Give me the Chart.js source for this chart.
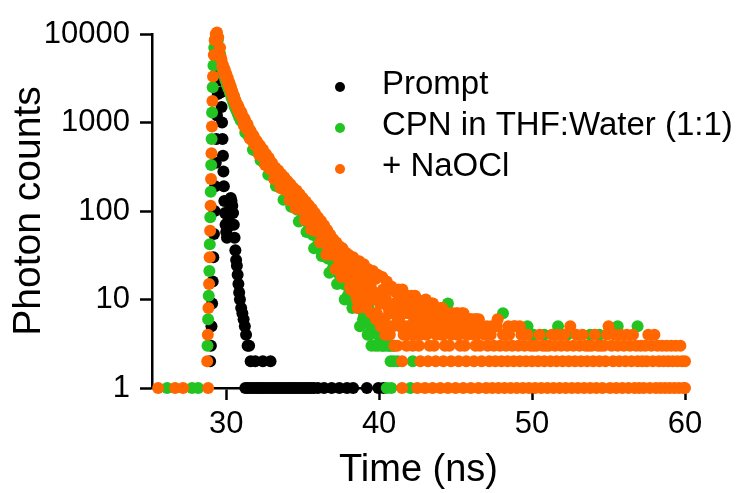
<!DOCTYPE html>
<html><head><meta charset="utf-8">
<script src="https://cdn.jsdelivr.net/npm/chart.js@4.4.1/dist/chart.umd.min.js"></script>
<style>html,body{margin:0;padding:0;background:#fff;}#c{display:block;}</style>
</head><body>
<canvas id="c" width="748" height="493"></canvas>
<script>
const seriesNames = ['Prompt', 'CPN in THF:Water (1:1)', '+ NaOCl'];
const xTickValues = [30, 40, 50, 60];
const yTickValues = [1, 10, 100, 1000, 10000];
const yTickLabels = ['1', '10', '100', '1000', '10000'];

// Prompt (IRF)
const promptTime = [28.95,29.0,29.04,29.08,29.12,29.16,29.2,29.24,29.28,29.32,29.36,29.4,29.45,29.5,29.56,
  29.62,29.66,29.7,29.73,29.76,29.79,29.82,29.85,29.88,29.92,29.96,30.0,30.05,30.1,30.15,30.2,30.25,30.3,30.35,30.4,
  30.45,30.5,30.55,30.6,30.65,30.7,30.75,30.8,30.85,30.9,30.98,31.06,31.14,31.22,31.3,31.4,31.5];
const promptCounts = [2,3,5,9,16,30,55,100,190,350,650,1200,2100,3000,3600,
  3000,2200,1500,1000,650,420,280,190,130,95,70,58,50,65,80,100,125,140,130,115,
  95,70,50,36,28,24,19,15,12,10,8,7,6,5,4,3,3];
const promptTailTime = [31.6,31.9,32.4,32.9,
  31.25,31.4,31.55,31.7,31.85,32.0,32.15,32.3,32.45,32.6,32.75,32.9,33.05,33.2,33.35,33.5,33.65,33.8,33.95,34.1,
  34.25,34.4,34.55,34.7,34.85,35.0,35.15,35.3,35.45,35.6,35.75,36.0,36.4,36.9,37.4,37.9,38.3,39.2,39.95,40.3];
const promptTailCounts = [2,2,2,2,
  1,1,1,1,1,1,1,1,1,1,1,1,1,1,1,1,1,1,1,1,
  1,1,1,1,1,1,1,1,1,1,1,1,1,1,1,1,1,1,1,1];

// Shared channel times for the decay of both samples
const decayTime = [29.6,29.7,29.8,29.9,30.0,30.1,30.2,30.3,30.4,30.5,
  30.6,30.7,30.8,30.9,31.0,31.1,31.2,31.3,31.4,31.5,
  31.6,31.7,31.8,31.9,32.0,32.1,32.2,32.3,32.4,32.5,
  32.6,32.7,32.8,32.9,33.0,33.1,33.2,33.3,33.4,33.5,
  33.6,33.7,33.8,33.9,34.0,34.1,34.2,34.3,34.4,34.5,
  34.6,34.7,34.8,34.9,35.0,35.1,35.2,35.3,35.4,35.5,
  35.6,35.7,35.8,35.9,36.0,36.1,36.2,36.3,36.4,36.5,
  36.6,36.7,36.8,36.9,37.0,37.1,37.2,37.3,37.4,37.5,
  37.6,37.7,37.8,37.9,38.0,38.1,38.2,38.3,38.4,38.5,
  38.6,38.7,38.8,38.9,39.0,39.1,39.2,39.3,39.4,39.5,
  39.6,39.7,39.8,39.9,40.0,40.1,40.2,40.3,40.4,40.5,
  40.6,40.7,40.8,40.9,41.0];
// Intermediate channels (half-way)
const decayTimeMid = [29.65,29.75,29.85,29.95,30.05,30.15,30.25,30.35,30.45,30.55,30.65,30.75,30.85,30.95,
  31.05,31.15,31.25,31.35,31.45,31.55,31.65,31.75,31.85,31.95,
  32.05,32.15,32.25,32.35,32.45,32.55,32.65,32.75,32.85,32.95,
  33.05,33.15,33.25,33.35,33.45,33.55,33.65,33.75,33.85,33.95,
  34.05,34.15,34.25,34.35,34.45,34.55,34.65,34.75,34.85,34.95,
  35.05,35.15,35.25,35.35,35.45,35.55,35.65,35.75,35.85,35.95,
  36.05,36.15,36.25,36.35,36.45,36.55,36.65,36.75,36.85,36.95,
  37.05,37.15,37.25,37.35,37.45,37.55,37.65,37.75,37.85,37.95,
  38.05,38.15,38.25,38.35,38.45,38.55,38.65,38.75,38.85,38.95,
  39.05,39.15,39.25,39.35,39.45,39.55,39.65,39.75,39.85,39.95,
  40.05,40.15,40.25,40.35,40.45,40.55,40.65,40.75,40.85,40.95];

// CPN in THF:Water (1:1)
const cpnBaseTime = [26.14,27.77,28.17];
const cpnBaseCounts = [1,1,1];
const cpnRiseTime = [28.78,28.82,28.86,28.9,28.93,28.96,28.99,29.02,29.05,29.08,29.12,29.17,29.22,29.29,29.36,29.45];
const cpnRiseCounts = [3,6,11,21,42,85,165,330,650,1300,2500,4400,7000,8800,9500,8500];
const cpnDecayCounts = [6000,4600,4100,3600,3300,2950,2650,2450,2150,1990,
  1760,1620,1430,1320,1160,1100,990,950,850,815,
  730,700,630,600,540,518,478,462,420,410,
  372,360,328,318,290,282,262,255,232,230,
  210,206,188,186,168,168,150,150,134,135,
  118,120,106,108,94,96,83,84,72,75,
  64,66,56,58,49,52,43,46,38,41,
  33,36,29,32,26,29,22,26,19,24,
  17,21,15,19,10,16,12,15,11,13,
  9,12,8,10,7,9,6,8,4,3,
  6,5,7,4,6,5,3,5,4,1,
  4,3,1,5,3];
const cpnDecayMidCounts = [4800,3900,3400,3000,2650,2400,2150,1900,1700,1520,1380,1260,1150,1050,
  1032,1048,772,860,710,810,639,493,602,475,
  486,501,374,422,354,409,327,256,317,253,
  255,273,192,231,189,234,180,134,183,140,
  150,159,112,134,109,134,103,76,103,79,
  82,89,58,73,57,75,54,38,56,40,
  44,48,31,39,31,40,29,20,30,22,
  23,26,15,21,16,22,15,10,16,11,
  13,14,8,11,9,12,8,5,9,6,
  7,8,4,6,5,7,5,3,5,3,
  4,5,3,4,3,4,3,2,3,2];
const cpnTailTime = [41.2,42.05,42.2,44.5,48.1,49.7,50.1,50.8,51.7,52.3,53.8,54.4,55.6,56.9];
const cpnTailCounts = [2,1,2,9,7,5,4,4,5,4,4,4,5,5];

// + NaOCl
const naoclBaseTime = [25.55,26.66,27.18,28.82];
const naoclBaseCounts = [1,1,1,1];
const naoclRiseTime = [28.76,28.8,28.84,28.88,28.92,28.95,28.98,29.01,29.04,29.07,29.1,29.14,29.19,29.25,29.32,29.4,29.48];
const naoclRiseCounts = [2,4,8,15,30,60,115,230,450,900,1750,3300,5800,8500,10000,10400,9200];
const naoclDecayCounts = [7000,5100,4400,4000,3550,3200,2850,2550,2250,2000,
  1800,1620,1520,1380,1300,1160,1100,980,950,840,
  800,720,700,630,620,560,555,500,495,445,
  440,395,392,350,348,312,310,280,288,252,
  262,230,240,206,218,186,200,166,182,150,
  170,136,155,122,140,110,128,98,116,88,
  106,80,95,70,85,62,77,55,69,48,
  61,43,54,38,48,34,44,30,40,27,
  38,24,34,21,32,14,24,30,12,22,
  8,27,18,11,25,15,9,22,13,7,
  21,12,6,19,10,5,18,9,4,16,
  8,4,14,7,3];
const naoclDecayMidCounts = [5500,4300,3800,3350,3000,2700,2400,2150,1900,1720,1560,1430,1300,1200,
  1122,927,1038,834,847,653,673,721,561,583,
  525,432,519,412,439,331,359,403,299,318,
  285,228,291,226,249,182,205,241,172,190,
  170,132,180,134,154,107,125,154,103,118,
  105,79,114,81,95,62,75,95,59,69,
  60,44,67,45,54,32,40,54,32,38,
  33,22,37,24,31,18,23,33,18,24,
  20,13,25,15,20,10,15,23,11,16,
  13,8,18,10,14,7,10,17,7,11,
  9,5,13,6,10,4,7,13,5,8];
const naoclTailTime = [41.1,41.2,41.3,41.4,41.5,41.6,41.7,41.8,41.9,42.0,
  42.1,42.2,42.3,42.4,42.5,42.6,42.7,42.8,42.9,43.0,
  43.1,43.2,43.3,43.4,43.5,43.6,43.7,43.8,43.9,44.0,
  44.1,44.2,44.3,44.4,44.5,44.6,44.7,44.8,44.9,45.0,
  45.1,45.2,45.3,45.4,45.5,45.6,45.7,45.8,45.9,46.0,
  46.1,46.2,46.3,46.4,46.5,46.6,46.7,46.8,46.9,47.0,
  47.1,47.2,47.3,47.4,47.5,47.6,47.7,47.8,47.9,48.0,
  48.1,48.2,48.3,48.4,48.5,48.6,48.7,48.8,48.9,49.0,
  49.1,49.2,49.3,49.4,49.5,49.6,49.7,49.8,49.9,50.0,
  50.1,50.2,50.3,50.4,50.5,50.6,50.7,50.8,50.9,51.0,
  51.1,51.2,51.3,51.4,51.5,51.6,51.7,51.8,51.9,52.0,
  52.1,52.2,52.3,52.4,52.5,52.6,52.7,52.8,52.9,53.0,
  53.1,53.2,53.3,53.4,53.5,53.6,53.7,53.8,53.9,54.0,
  54.1,54.2,54.3,54.4,54.5,54.6,54.7,54.8,54.9,55.0,
  55.1,55.2,55.3,55.4,55.5,55.6,55.7,55.8,55.9,56.0,
  56.1,56.2,56.3,56.4,56.5,56.6,56.7,56.8,56.9,57.0,
  57.1,57.2,57.3,57.4,57.5,57.6,57.7,57.8,57.9,58.0,
  58.1,58.2,58.3,58.4,58.5,58.6,58.7,58.8,58.9,59.0,
  59.1,59.2,59.3,59.4,59.5,59.6,59.7,59.8,59.9,60.0];
const naoclTailCounts = [12,3,6,10,2,4,11,3,7,5,
  10,3,6,4,1,3,2,5,9,1,
  4,2,3,8,1,3,2,6,7,1,
  4,2,3,5,1,3,2,5,6,1,
  4,2,3,7,1,3,2,4,6,1,
  5,2,3,4,1,3,2,5,4,1,
  3,2,4,1,3,2,5,1,3,2,
  4,1,3,2,4,1,3,2,5,1,
  3,2,4,1,3,2,4,1,3,2,
  3,1,3,2,4,1,3,2,3,1,
  3,2,4,1,3,2,4,1,3,2,
  4,1,3,2,5,1,3,2,4,1,
  3,2,4,1,3,2,3,1,3,2,
  4,1,3,2,3,1,3,2,4,5,
  1,3,2,4,1,3,2,4,1,3,
  2,4,1,3,2,4,1,3,2,1,
  3,2,1,3,2,4,1,3,2,4,
  1,3,2,1,3,2,1,3,2,1,
  3,2,1,3,2,1,3,2,1,2];
const naoclExtraTime = [41.15,41.25,41.35,41.45,41.5,41.55,41.65,41.75,41.85,41.95,
  42.05,42.15,42.25,42.35,
  42.55,42.65,42.75,42.85,42.95,
  43.05,43.15,43.25,43.35,43.45,43.55,43.65,43.75,
  43.95,44.05,44.15,44.25,44.45,44.65,44.85,
  45.05,45.25,45.45,45.65,45.95,
  46.25,46.35,46.65,
  47.05,47.35,47.75,
  48.45,48.8,49.2,
  60.0];
const naoclExtraCounts = [8,13,5,9,1,11,7,4,9,5,
  8,4,7,11,
  7,9,6,8,5,
  10,6,7,5,9,6,8,5,
  6,8,5,7,6,7,6,
  7,5,6,6,6,
  5,6,5,
  5,5,6,
  5,5,5,
  1];
const naoclMassTime = [41.02,41.12,41.22,41.32,41.42,41.52,41.62,41.72,41.82,41.92,
  42.02,42.12,42.22,42.32,42.42,42.52,42.62,42.72,42.82,42.92,
  43.02,43.12,43.22,43.32,43.42,43.52,43.62,43.72,43.82,43.92,
  44.02,44.12,44.22,44.32,44.42,44.52,44.62,44.72,44.82,44.92,
  45.02,45.12,45.22,45.32,45.42,45.52,45.62,45.72,45.82,45.92,
  46.02,46.12,46.22,46.32,46.42,46.52];
const naoclMassCounts = [9,12,6,11,7,13,9,5,11,8,
  7,11,5,9,6,10,8,4,9,7,
  6,9,5,8,6,9,7,4,8,6,
  6,8,4,7,5,5,6,4,7,5,
  5,7,4,6,5,7,5,4,6,5,
  5,6,4,6,5,6];

function points(times, counts) { return times.map((t, i) => ({ x: t, y: counts[i] })); }

const promptData = points(promptTime, promptCounts).concat(points(promptTailTime, promptTailCounts));
const cpnData = points(cpnBaseTime, cpnBaseCounts).concat(points(cpnRiseTime, cpnRiseCounts),
  points(decayTime, cpnDecayCounts), points(decayTimeMid, cpnDecayMidCounts), points(cpnTailTime, cpnTailCounts));
const naoclData = points(naoclBaseTime, naoclBaseCounts).concat(points(naoclRiseTime, naoclRiseCounts),
  points(decayTime, naoclDecayCounts), points(decayTimeMid, naoclDecayMidCounts),
  points(naoclTailTime, naoclTailCounts), points(naoclExtraTime, naoclExtraCounts), points(naoclMassTime, naoclMassCounts));

const FONT = "'Liberation Sans', Arial, Helvetica, sans-serif";
const BLACK = '#000000', GREEN = '#22c422', ORANGE = '#ff6600';
Chart.defaults.font.family = FONT;
Chart.defaults.color = '#000';

const legendPlugin = {
  id: 'insideLegend',
  afterDraw(chart) {
    const ctx = chart.ctx;
    const rows = [85, 126, 167];
    ctx.save();
    ctx.font = '33px ' + FONT;
    ctx.textBaseline = 'middle';
    ctx.textAlign = 'left';
    chart.data.datasets.forEach((ds, i) => {
      ctx.fillStyle = ds.backgroundColor;
      ctx.beginPath();
      ctx.arc(340, rows[i] + 2, 5, 0, Math.PI * 2);
      ctx.fill();
      ctx.fillStyle = '#000';
      ctx.fillText(ds.label, 382, rows[i]);
    });
    ctx.restore();
  }
};

const common = { pointRadius: 6, pointHoverRadius: 6, pointBorderWidth: 0, borderWidth: 0, clip: false, showLine: false };

new Chart(document.getElementById('c'), {
  type: 'scatter',
  data: {
    datasets: [
      Object.assign({ label: seriesNames[0], data: promptData, backgroundColor: BLACK, pointBackgroundColor: BLACK, order: 2 }, common),
      Object.assign({ label: seriesNames[1], data: cpnData, backgroundColor: GREEN, pointBackgroundColor: GREEN, order: 1 }, common),
      Object.assign({ label: seriesNames[2], data: naoclData, backgroundColor: ORANGE, pointBackgroundColor: ORANGE, order: 0 }, common)
    ]
  },
  options: {
    responsive: false,
    animation: false,
    devicePixelRatio: 1,
    layout: { padding: { top: 34, right: 63, bottom: 0, left: 0 } },
    plugins: { legend: { display: false }, tooltip: { enabled: false } },
    scales: {
      x: {
        type: 'linear', min: 25.15, max: 60,
        afterBuildTicks: s => { s.ticks = xTickValues.map(v => ({ value: v })); },
        afterFit: s => { s.height = 105; },
        ticks: { font: { size: 31 }, color: '#000', padding: 6, maxRotation: 0, autoSkip: false, callback: v => String(v) },
        grid: { display: true, drawOnChartArea: false, drawTicks: true, tickLength: 12, tickWidth: 2.5, tickColor: '#000' },
        border: { display: true, color: '#000', width: 2.5 },
        title: { display: true, text: 'Time (ns)', font: { size: 38 }, color: '#000', padding: { top: 0, bottom: 0 } }
      },
      y: {
        type: 'logarithmic', min: 1, max: 10000,
        afterBuildTicks: s => { s.ticks = yTickValues.map(v => ({ value: v })); },
        afterFit: s => { s.width = 152; },
        ticks: { font: { size: 31 }, color: '#000', padding: 10, autoSkip: false,
          callback: v => { const i = yTickValues.indexOf(v); return i >= 0 ? yTickLabels[i] : ''; } },
        grid: { display: true, drawOnChartArea: false, drawTicks: true, tickLength: 12, tickWidth: 2.5, tickColor: '#000' },
        border: { display: true, color: '#000', width: 2.5 },
        title: { display: true, text: 'Photon counts', font: { size: 39 }, color: '#000', padding: { top: 6, bottom: 0 } }
      }
    }
  },
  plugins: [legendPlugin]
});
</script>
</body></html>
